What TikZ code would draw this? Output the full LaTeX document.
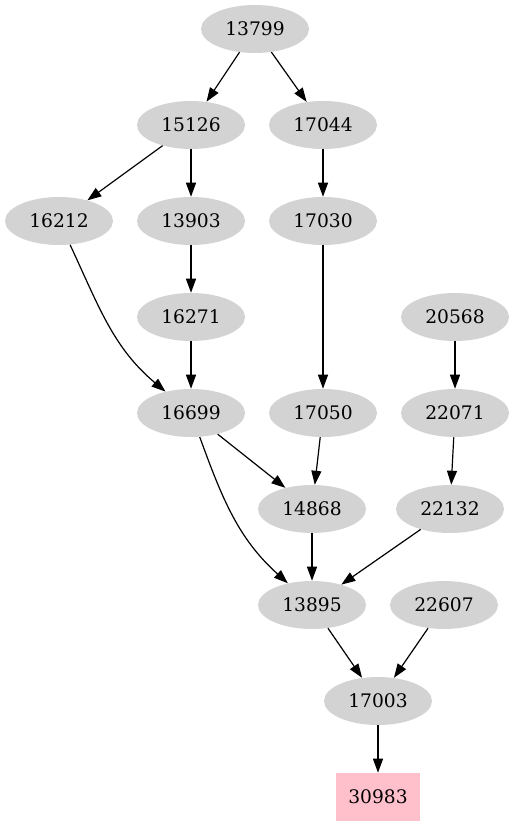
\documentclass[tikz,border=0pt]{standalone}
\usepackage{fontspec}
\setmainfont{DejaVu Serif}
\usetikzlibrary{arrows.meta,shapes.geometric}
\definecolor{nodegray}{HTML}{D3D3D3}
\definecolor{nodepink}{HTML}{FFC0CB}
\begin{document}
\begin{tikzpicture}[x=0.75pt,y=-0.75pt,
  every node/.style={font=\fontsize{14pt}{16pt}\selectfont},
  gnode/.style={ellipse,fill=nodegray,minimum width=81pt,minimum height=36pt,inner sep=0pt},
  rnode/.style={rectangle,fill=nodepink,minimum width=63pt,minimum height=36pt,inner sep=0pt},
  edge/.style={draw=black,line width=0.9pt,-{Triangle[length=10.5pt,width=7.5pt]}}]
\useasboundingbox (0,0) rectangle (514,827);
\node[gnode] (n13799) at (255,29) {13799};
\node[gnode] (n15126) at (191,125) {15126};
\node[gnode] (n17044) at (323,125) {17044};
\node[gnode] (n16212) at (59,221) {16212};
\node[gnode] (n13903) at (191,221) {13903};
\node[gnode] (n17030) at (323,221) {17030};
\node[gnode] (n16271) at (191,317) {16271};
\node[gnode] (n20568) at (455,317) {20568};
\node[gnode] (n16699) at (191,413) {16699};
\node[gnode] (n17050) at (323,413) {17050};
\node[gnode] (n22071) at (455,413) {22071};
\node[gnode] (n14868) at (312,509) {14868};
\node[gnode] (n22132) at (450,509) {22132};
\node[gnode] (n13895) at (312,605) {13895};
\node[gnode] (n22607) at (444,605) {22607};
\node[gnode] (n17003) at (378,701) {17003};
\node[rnode] (n30983) at (378,797) {30983};
\path[edge] (n13799) -- (n15126);
\path[edge] (n13799) -- (n17044);
\path[edge] (n15126) -- (n16212);
\path[edge] (n15126) -- (n13903);
\path[edge] (n17044) -- (n17030);
\path[edge] (n13903) -- (n16271);
\path[edge] (n16212) to[out=-65,in=140] (n16699);
\path[edge] (n16271) -- (n16699);
\path[edge] (n17030) -- (n17050);
\path[edge] (n20568) -- (n22071);
\path[edge] (n16699) -- (n14868);
\path[edge] (n16699) to[out=-70,in=138] (n13895);
\path[edge] (n17050) -- (n14868);
\path[edge] (n22071) -- (n22132);
\path[edge] (n14868) -- (n13895);
\path[edge] (n22132) -- (n13895);
\path[edge] (n13895) -- (n17003);
\path[edge] (n22607) -- (n17003);
\path[edge] (n17003) -- (n30983);
\end{tikzpicture}
\end{document}
